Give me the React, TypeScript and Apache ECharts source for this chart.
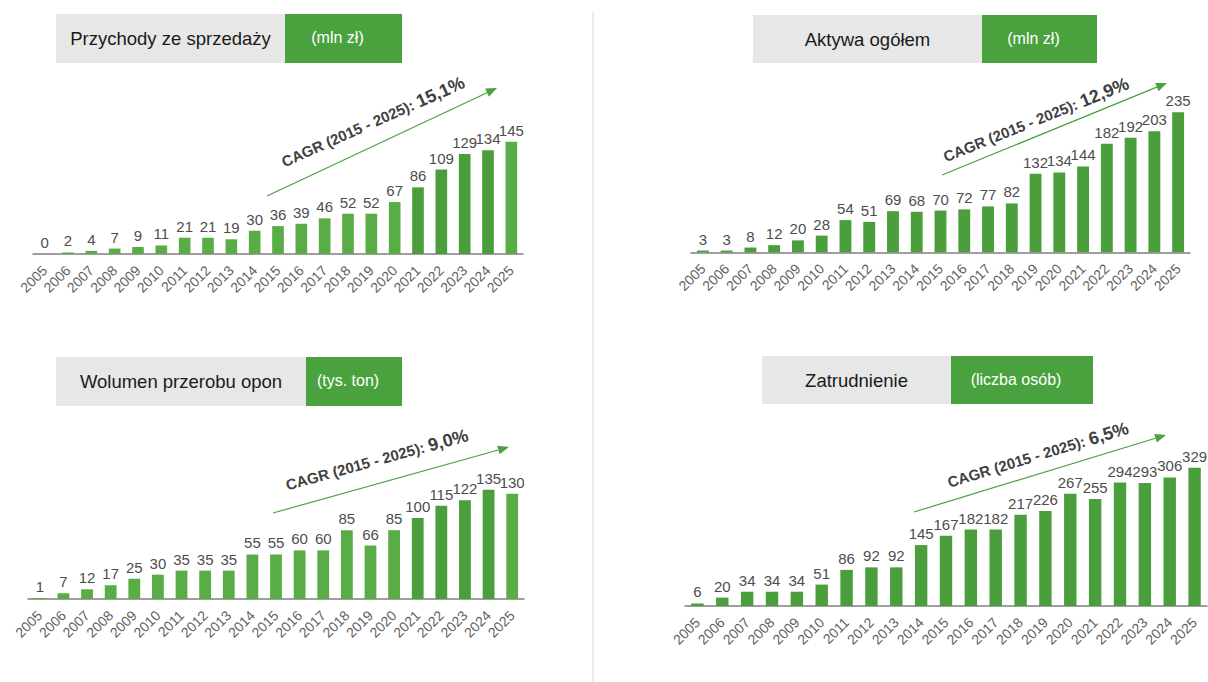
import React, { useEffect, useRef } from 'react';
import * as echarts from 'echarts';

const years = ['2005','2006','2007','2008','2009','2010','2011','2012','2013','2014','2015','2016','2017','2018','2019','2020','2021','2022','2023','2024','2025'];
const revenue = [0,2,4,7,9,11,21,21,19,30,36,39,46,52,52,67,86,109,129,134,145];
const assets = [3,3,8,12,20,28,54,51,69,68,70,72,77,82,132,134,144,182,192,203,235];
const volume = [1,7,12,17,25,30,35,35,35,55,55,60,60,85,66,85,100,115,122,135,130];
const employment = [6,20,34,34,34,51,86,92,92,145,167,182,182,217,226,267,255,294,293,306,329];
const highlightYears = ['2021','2022','2023','2024'];

const titles = ['Przychody ze sprzedaży','Aktywa ogółem','Wolumen przerobu opon','Zatrudnienie'];
const units = ['(mln zł)','(mln zł)','(tys. ton)','(liczba osób)'];
const cagrLabels = ['15,1%','12,9%','9,0%','6,5%'];
const cagrPrefix = 'CAGR (2015 - 2025): ';

const FONT = '"Liberation Sans", Arial, sans-serif';
const DARK = '#4a9f3c';
const LIGHT = '#5aad46';
const TITLE_GREEN = '#4aa23e';
const TITLE_GRAY = '#e7e7e7';

// layout (pixels)
const panels = [
  { grid: { left: 33, width: 490, top: 99, height: 155 }, max: 200, twoTone: true, data: revenue,
    gray: [56, 285], green: [285, 402], boxY: [14, 63],
    arrow: [[267, 196], [497, 88]], text: [373, 122], textAngle: 24 },
  { grid: { left: 691, width: 499, top: 73.5, height: 178.8 }, max: 300, twoTone: false, data: assets,
    gray: [753, 982], green: [982, 1097], boxY: [15, 63],
    arrow: [[942, 175], [1167, 83]], text: [1036, 120], textAngle: 22 },
  { grid: { left: 28, width: 496, top: 477.5, height: 121.5 }, max: 150, twoTone: true, data: volume,
    gray: [56, 306], green: [306, 402], boxY: [357, 406],
    arrow: [[273, 513], [509, 447]], text: [377, 460], textAngle: 15.5 },
  { grid: { left: 685, width: 522, top: 438, height: 168 }, max: 400, twoTone: false, data: employment,
    gray: [762, 951], green: [951, 1093], boxY: [356, 404],
    arrow: [[914, 512], [1166, 435]], text: [1038, 455], textAngle: 17 },
];

function arrowElements(start: number[], end: number[]) {
  const [x1, y1] = start;
  const [x2, y2] = end;
  const ang = Math.atan2(y2 - y1, x2 - x1);
  const len = 11, hw = 4.5;
  const bx = x2 - len * Math.cos(ang), by = y2 - len * Math.sin(ang);
  const px = -Math.sin(ang) * hw, py = Math.cos(ang) * hw;
  return [
    { type: 'line', shape: { x1, y1, x2: bx, y2: by }, style: { stroke: TITLE_GREEN, lineWidth: 1.2 }, silent: true },
    { type: 'polygon', shape: { points: [[x2, y2], [bx + px, by + py], [bx - px, by - py]] }, style: { fill: TITLE_GREEN }, silent: true },
  ];
}

export default function App() {
  const ref = useRef<HTMLDivElement>(null);
  useEffect(() => {
    if (!ref.current) return;
    const chart = echarts.init(ref.current, undefined, { renderer: 'svg' });

    const graphic: any[] = [
      { type: 'line', shape: { x1: 593, y1: 12, x2: 593, y2: 682 }, style: { stroke: '#d9d9d9', lineWidth: 1 }, silent: true },
    ];
    panels.forEach((p, i) => {
      const [g0, g1] = p.gray;
      const [n0, n1] = p.green;
      const [y0, y1] = p.boxY;
      graphic.push({ type: 'rect', shape: { x: g0, y: y0, width: g1 - g0, height: y1 - y0 }, style: { fill: TITLE_GRAY }, silent: true });
      graphic.push({ type: 'rect', shape: { x: n0, y: y0, width: n1 - n0, height: y1 - y0 }, style: { fill: TITLE_GREEN }, silent: true });
      graphic.push({ type: 'text', x: (g0 + g1) / 2, y: (y0 + y1) / 2, style: { text: titles[i], fill: '#1a1a1a', font: `18.5px ${FONT}`, align: 'center', verticalAlign: 'middle' }, silent: true });
      graphic.push({ type: 'text', x: (n0 + n1) / 2 - 6, y: (y0 + y1) / 2 - 1, style: { text: units[i], fill: '#ffffff', font: `16px ${FONT}`, align: 'center', verticalAlign: 'middle' }, silent: true });
      graphic.push(...arrowElements(p.arrow[0], p.arrow[1]));
      graphic.push({
        type: 'text', x: p.text[0], y: p.text[1], rotation: (p.textAngle * Math.PI) / 180,
        style: {
          text: `{a|${cagrPrefix}}{b|${cagrLabels[i]}}`,
          align: 'center', verticalAlign: 'middle',
          rich: {
            a: { fontSize: 15, fontWeight: 'bold', fill: '#404040', fontFamily: FONT },
            b: { fontSize: 18, fontWeight: 'bold', fill: '#404040', fontFamily: FONT },
          },
        },
        silent: true,
      });
    });

    const option: any = {
      animation: false,
      backgroundColor: '#ffffff',
      grid: panels.map((p) => ({ ...p.grid, containLabel: false })),
      xAxis: panels.map((p, i) => ({
        type: 'category', gridIndex: i, data: years,
        axisTick: { show: false },
        axisLine: { lineStyle: { color: '#7f7f7f', width: 1.5 } },
        axisLabel: { rotate: 45, interval: 0, fontSize: 14, color: '#5f5f5f', fontFamily: FONT, margin: 14 },
      })),
      yAxis: panels.map((p, i) => ({ type: 'value', gridIndex: i, min: 0, max: p.max, show: false, splitLine: { show: false } })),
      series: panels.map((p, i) => ({
        type: 'bar', xAxisIndex: i, yAxisIndex: i, barWidth: '50%',
        data: p.data.map((v, k) => ({
          value: v,
          itemStyle: { color: p.twoTone ? (highlightYears.includes(years[k]) ? DARK : LIGHT) : DARK },
        })),
        label: { show: true, position: 'top', color: '#4d4d4d', fontSize: 15, fontFamily: FONT, distance: 4 },
      })),
      graphic,
    };
    chart.setOption(option);
    return () => chart.dispose();
  }, []);
  return <div ref={ref} style={{ position: 'absolute', left: 0, top: 0, width: 1208, height: 682 }} />;
}
